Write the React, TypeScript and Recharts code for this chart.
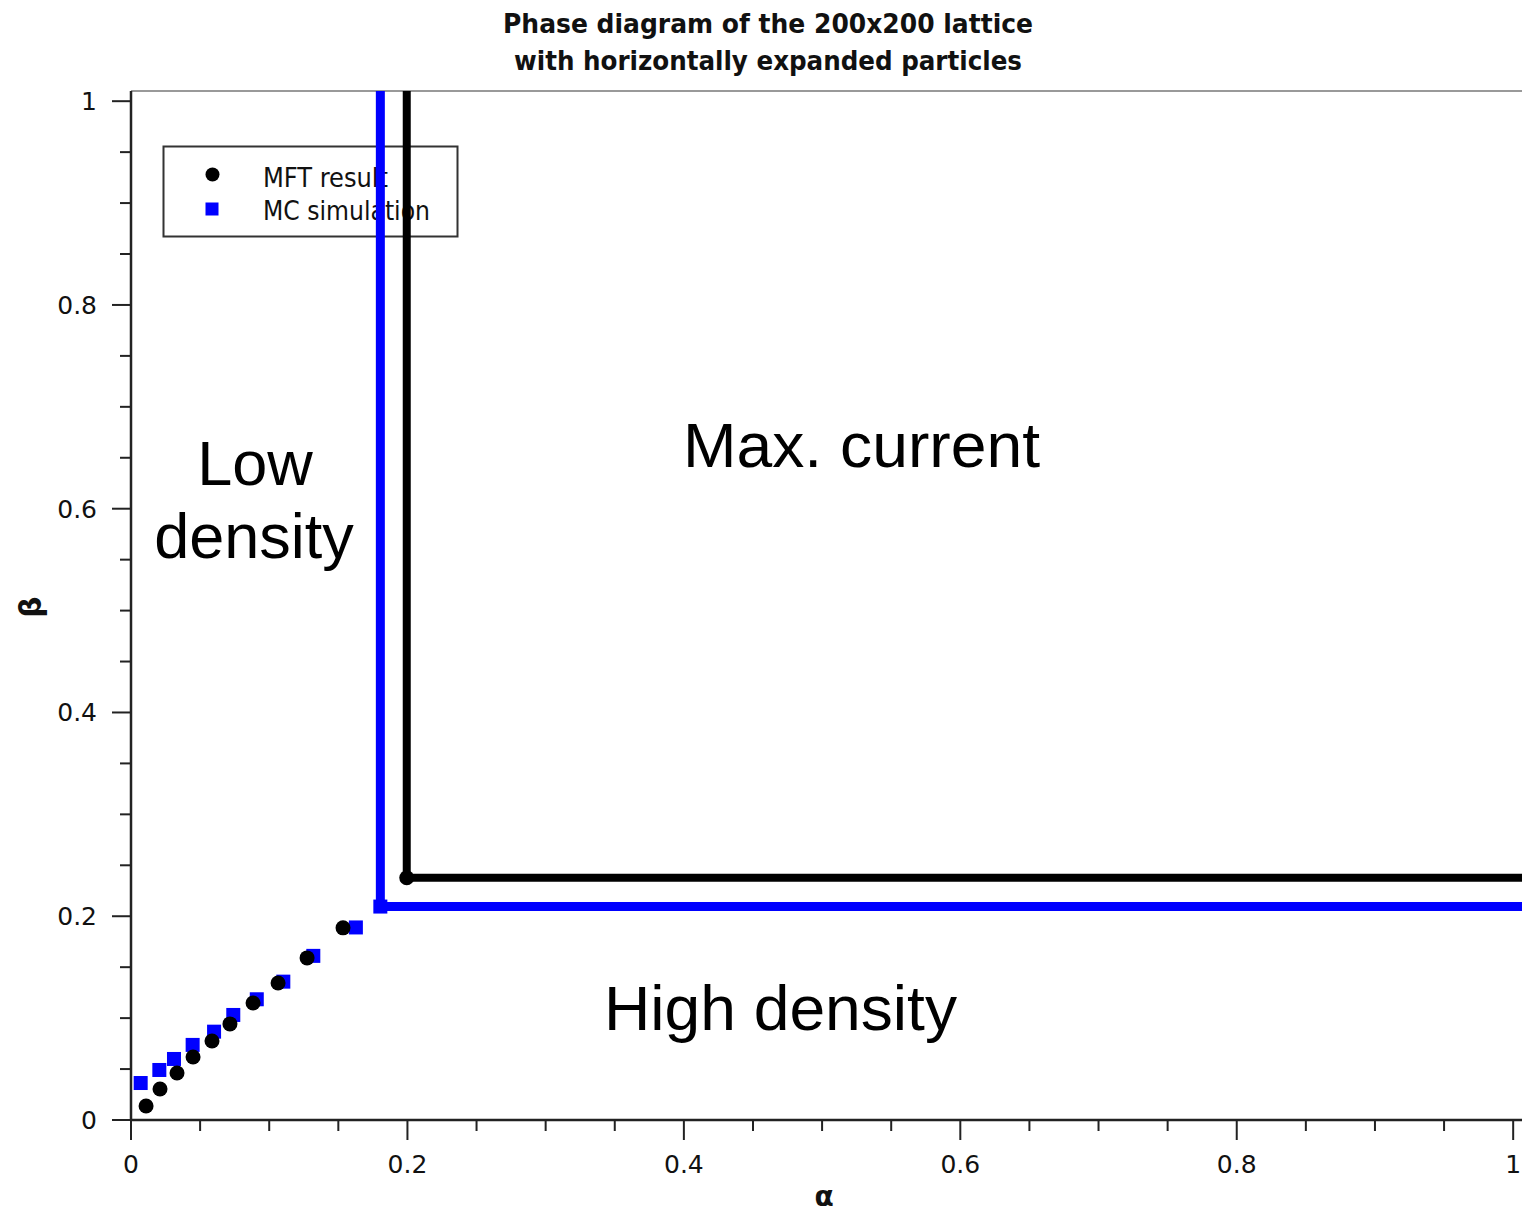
import React from 'react';
import { ScatterChart, Scatter, XAxis, YAxis, ReferenceLine } from 'recharts';

// ---- data ----
const mftAlpha = [0.0109, 0.021, 0.0333, 0.0449, 0.0586, 0.0716, 0.0883, 0.1064, 0.1274, 0.1534];
const mftBeta = [0.0137, 0.0304, 0.0461, 0.0619, 0.0776, 0.0943, 0.1149, 0.1345, 0.1591, 0.1886];
const mcAlpha = [0.007, 0.0205, 0.0311, 0.0446, 0.0601, 0.074, 0.091, 0.1102, 0.1319, 0.1627];
const mcBeta = [0.0363, 0.0491, 0.0599, 0.0737, 0.0867, 0.1031, 0.1185, 0.1358, 0.1611, 0.189];

const AXIS_MAX = 1.01;
const mftBoundaryAlpha = [0.1995, 0.1995, 1.01];
const mftBoundaryBeta = [1.01, 0.2378, 0.2378];
const mcBoundaryAlpha = [0.1804, 0.1804, 1.01];
const mcBoundaryBeta = [1.01, 0.2095, 0.2095];

const tickValues = [0, 0.05, 0.1, 0.15, 0.2, 0.25, 0.3, 0.35, 0.4, 0.45, 0.5, 0.55, 0.6, 0.65, 0.7, 0.75, 0.8, 0.85, 0.9, 0.95, 1];
const majorTicks = [0, 0.2, 0.4, 0.6, 0.8, 1];
const majorLabels = ['0', '0.2', '0.4', '0.6', '0.8', '1'];

const titleLines = ['Phase diagram of the 200x200 lattice', 'with horizontally expanded particles'];
const seriesNames = ['MFT result', 'MC simulation'];
const regionLabels = { low: ['Low', 'density'], max: 'Max. current', high: 'High density' };
const xAxisLabel = 'α';
const yAxisLabel = 'β';

// ---- build tables ----
const zip = (a: number[], b: number[]) => a.map((v, i) => ({ a: v, b: b[i] }));
const mftData = zip(mftAlpha, mftBeta);
const mcData = zip(mcAlpha, mcBeta);
const mftBoundary = zip(mftBoundaryAlpha, mftBoundaryBeta);
const mcBoundary = zip(mcBoundaryAlpha, mcBoundaryBeta);
const mftCorner = [mftBoundary[1]];
const mcCorner = [mcBoundary[1]];

const majorIndex = (v: number) => majorTicks.findIndex((m) => Math.abs(m - v) < 1e-6);

const TICK_COLOR = '#222';
const TICK_FONT = 'DejaVu Sans, Verdana, sans-serif';

const XTick = (props: any) => {
  const { x, y, payload } = props;
  const idx = majorIndex(payload.value);
  const major = idx >= 0;
  return (
    <g>
      <line x1={x} x2={x} y1={y} y2={y + (major ? 20 : 11)} stroke={TICK_COLOR} strokeWidth={2} />
      {major && (
        <text x={x} y={y + 53} textAnchor="middle" fontSize={25} fontFamily={TICK_FONT} fill="#111">
          {majorLabels[idx]}
        </text>
      )}
    </g>
  );
};

const YTick = (props: any) => {
  const { x, y, payload } = props;
  const idx = majorIndex(payload.value);
  const major = idx >= 0;
  return (
    <g>
      <line x1={x - (major ? 19 : 11)} x2={x} y1={y} y2={y} stroke={TICK_COLOR} strokeWidth={2} />
      {major && (
        <text x={x - 34} y={y + 9} textAnchor="end" fontSize={25} fontFamily={TICK_FONT} fill="#111">
          {majorLabels[idx]}
        </text>
      )}
    </g>
  );
};

const Circle = (props: any) => {
  const { cx, cy } = props;
  if (cx == null || cy == null) return <g />;
  return <circle cx={cx} cy={cy} r={7.5} fill="#000" />;
};

const Square = (props: any) => {
  const { cx, cy } = props;
  if (cx == null || cy == null) return <g />;
  return <rect x={cx - 7} y={cy - 7} width={14} height={14} fill="#0000ff" />;
};

const Nothing = () => <g />;

const REGION_FONT = 'Liberation Sans, Arial, sans-serif';
const COND_FONT = 'DejaVu Sans Condensed, DejaVu Sans, sans-serif';

export default function App() {
  return (
    <div
      style={{
        position: 'fixed',
        left: 0,
        top: 0,
        width: 1522,
        height: 1215,
        overflow: 'hidden',
        background: '#fff',
      }}
    >
      {/* underlay: title, legend, region labels, axis labels */}
      <svg width={1522} height={1215} style={{ position: 'absolute', left: 0, top: 0 }}>
        <text x={768} y={33} textAnchor="middle" fontSize={27} fontWeight="bold" fontFamily={COND_FONT}
          textLength={530} lengthAdjust="spacingAndGlyphs" fill="#111">
          {titleLines[0]}
        </text>
        <text x={768} y={70} textAnchor="middle" fontSize={27} fontWeight="bold" fontFamily={COND_FONT}
          textLength={508} lengthAdjust="spacingAndGlyphs" fill="#111">
          {titleLines[1]}
        </text>

        {/* legend */}
        <rect x={163.5} y={146.5} width={294} height={90} fill="#fff" stroke="#333" strokeWidth={2} />
        <circle cx={212.5} cy={174.5} r={7} fill="#000" />
        <rect x={205.5} y={202.5} width={13} height={13} fill="#0000ff" />
        <text x={263} y={187} fontSize={27} fontFamily={COND_FONT} textLength={125} lengthAdjust="spacingAndGlyphs" fill="#111">
          {seriesNames[0]}
        </text>
        <text x={263} y={220} fontSize={27} fontFamily={COND_FONT} textLength={167} lengthAdjust="spacingAndGlyphs" fill="#111">
          {seriesNames[1]}
        </text>

        {/* region labels */}
        <text x={255} y={485} textAnchor="middle" fontSize={63} fontFamily={REGION_FONT} fill="#000">
          {regionLabels.low[0]}
        </text>
        <text x={254} y={558} textAnchor="middle" fontSize={63} fontFamily={REGION_FONT} fill="#000">
          {regionLabels.low[1]}
        </text>
        <text x={861.5} y={467} textAnchor="middle" fontSize={63} fontFamily={REGION_FONT}
          textLength={357} lengthAdjust="spacingAndGlyphs" fill="#000">
          {regionLabels.max}
        </text>
        <text x={780.5} y={1030} textAnchor="middle" fontSize={63} fontFamily={REGION_FONT}
          textLength={353} lengthAdjust="spacingAndGlyphs" fill="#000">
          {regionLabels.high}
        </text>

        {/* axis labels */}
        <text x={824} y={1206} textAnchor="middle" fontSize={28} fontWeight="bold" fontFamily="DejaVu Sans, sans-serif" fill="#111">
          {xAxisLabel}
        </text>
        <text x={41} y={607} textAnchor="middle" fontSize={30} fontWeight="bold" fontFamily="DejaVu Sans, sans-serif"
          fill="#111" transform="rotate(-90, 41, 607)">
          {yAxisLabel}
        </text>
      </svg>

      <div style={{ position: 'absolute', left: 0, top: 0 }}>
        <ScatterChart width={1527} height={1215} margin={{ top: 91, right: 0, bottom: 0, left: 0 }}>
          <XAxis
            type="number"
            dataKey="a"
            domain={[0, AXIS_MAX]}
            allowDataOverflow
            ticks={tickValues}
            interval={0}
            tickSize={0}
            tickMargin={0}
            tickLine={false}
            tick={<XTick />}
            axisLine={{ stroke: '#222', strokeWidth: 2.5 }}
            height={95}
          />
          <YAxis
            type="number"
            dataKey="b"
            domain={[0, AXIS_MAX]}
            allowDataOverflow
            ticks={tickValues}
            interval={0}
            tickSize={0}
            tickMargin={0}
            tickLine={false}
            tick={<YTick />}
            axisLine={{ stroke: '#222', strokeWidth: 2.5 }}
            width={131}
          />
          <ReferenceLine y={AXIS_MAX} stroke="#999" strokeWidth={2} ifOverflow="extendDomain" />
          <Scatter name="MC boundary" data={mcBoundary} line={{ stroke: '#0000ff', strokeWidth: 9 }}
            lineType="joint" shape={<Nothing />} isAnimationActive={false} />
          <Scatter name="MFT boundary" data={mftBoundary} line={{ stroke: '#000', strokeWidth: 8 }}
            lineType="joint" shape={<Nothing />} isAnimationActive={false} />
          <Scatter name="MC corner" data={mcCorner} shape={<Square />} isAnimationActive={false} />
          <Scatter name="MFT corner" data={mftCorner} shape={<Circle />} isAnimationActive={false} />
          <Scatter name={seriesNames[1]} data={mcData} shape={<Square />} isAnimationActive={false} />
          <Scatter name={seriesNames[0]} data={mftData} shape={<Circle />} isAnimationActive={false} />
        </ScatterChart>
      </div>
    </div>
  );
}
